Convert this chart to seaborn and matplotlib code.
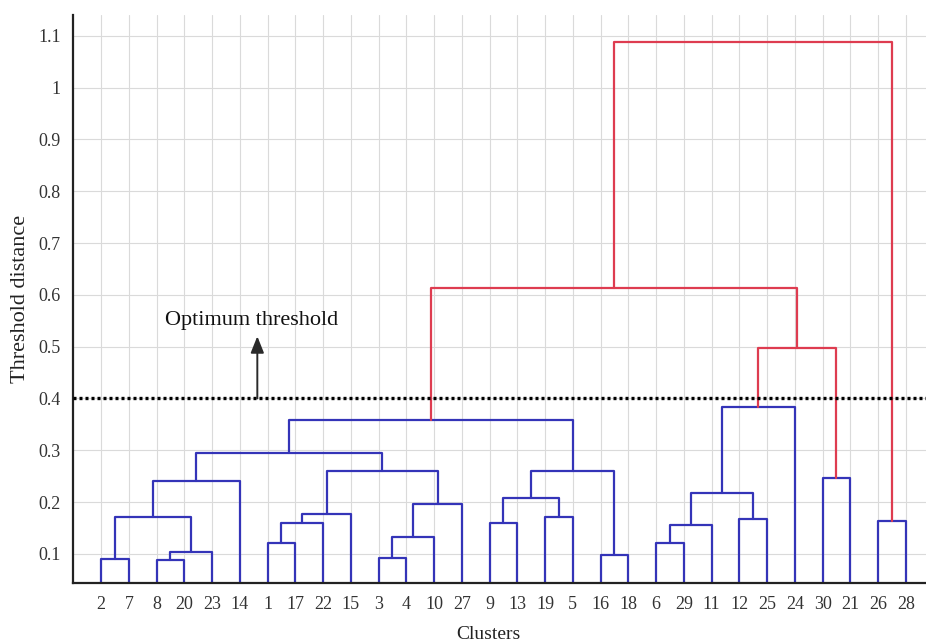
import numpy as np
import pandas as pd
import matplotlib
matplotlib.use("Agg")
import matplotlib.pyplot as plt
import seaborn as sns

# ---- data -----------------------------------------------------------
leaf_labels = ["2", "7", "8", "20", "23", "14", "1", "17", "22", "15",
               "3", "4", "10", "27", "9", "13", "19", "5", "16", "18",
               "6", "29", "11", "12", "25", "24", "30", "21", "26", "28"]

# merges: node name, left child, right child, height
merge_names = ["m0", "m1", "m2", "m3", "m4", "m5", "m6", "m7", "m8", "m9",
               "m10", "m11", "m12", "m13", "m14", "m15", "m16", "m17", "m18",
               "m19", "m20", "m21", "m22", "m23", "m24", "m25", "m26", "m27", "m28"]
merge_left = ["2", "8", "m1", "m0", "m3", "1", "m5", "m6", "3", "m8",
              "m9", "m7", "m4", "9", "19", "m13", "16", "m15", "m12",
              "6", "m19", "12", "m20", "m22", "30", "m23", "m18", "26", "m26"]
merge_right = ["7", "20", "23", "m2", "14", "17", "22", "15", "4", "10",
               "27", "m10", "m11", "13", "5", "m14", "18", "m16", "m17",
               "29", "11", "25", "m21", "24", "21", "m24", "m25", "28", "m27"]
merge_height = [0.089, 0.088, 0.104, 0.171, 0.241, 0.120, 0.159, 0.176, 0.091, 0.133,
                0.197, 0.259, 0.295, 0.159, 0.171, 0.208, 0.098, 0.260, 0.358,
                0.120, 0.155, 0.167, 0.217, 0.384, 0.247, 0.497, 0.614, 0.163, 1.088]

threshold = 0.4
y_ticks = [0.1, 0.2, 0.3, 0.4, 0.5, 0.6, 0.7, 0.8, 0.9, 1.0, 1.1]
y_tick_labels = ["0.1", "0.2", "0.3", "0.4", "0.5", "0.6", "0.7", "0.8", "0.9", "1", "1.1"]

# ---- build link segments -------------------------------------------
pos = {lab: i + 1 for i, lab in enumerate(leaf_labels)}
hgt = {lab: 0.0 for lab in leaf_labels}
rows = []
for name, l, r, h in zip(merge_names, merge_left, merge_right, merge_height):
    xl, xr = pos[l], pos[r]
    yl, yr = hgt[l], hgt[r]
    col = "above" if h > threshold else "below"
    for x, y in [(xl, yl), (xl, h), (xr, h), (xr, yr)]:
        rows.append({"link": name, "x": x, "y": y, "grp": col})
    pos[name] = (xl + xr) / 2.0
    hgt[name] = h
df = pd.DataFrame(rows)

# ---- figure --------------------------------------------------------
sns.set_style("whitegrid")
plt.rcParams["font.family"] = ["Liberation Serif", "DejaVu Serif"]

fig = plt.figure(figsize=(9.26, 6.42), dpi=100)
ax = fig.add_axes([0.0792, 0.0914, 0.929, 0.885])

sns.lineplot(data=df, x="x", y="y", units="link", hue="grp",
             palette={"below": "#3434b8", "above": "#de3c50"},
             estimator=None, sort=False, legend=False, linewidth=1.6, ax=ax)

ax.axhline(threshold, color="black", linestyle=(0, (0.9, 0.9)), linewidth=2.4, zorder=5)

ax.annotate("", xy=(6.63, 0.52), xytext=(6.63, threshold),
            arrowprops=dict(arrowstyle="-|>,head_length=1.0,head_width=0.4",
                            color="#2a2a2a", lw=1.4, shrinkA=0, shrinkB=0))
ax.text(3.3, 0.55, "Optimum threshold", fontsize=16, ha="left", va="center", color="#111111")

ax.set_xlim(0, 31)
ax.set_ylim(0.043, 1.14)
ax.set_xticks(range(1, len(leaf_labels) + 1))
ax.set_xticklabels(leaf_labels)
ax.set_yticks(y_ticks)
ax.set_yticklabels(y_tick_labels)
ax.tick_params(axis="y", direction="in", length=6, width=1.2, color="#333333",
               labelsize=13, pad=9, labelcolor="#333333")
ax.tick_params(axis="x", direction="in", length=0, labelsize=13, pad=9, labelcolor="#333333")

ax.grid(True, color="#dadada", linewidth=0.8)
for s in ["top", "right"]:
    ax.spines[s].set_visible(False)
for s in ["left", "bottom"]:
    ax.spines[s].set_visible(True)
    ax.spines[s].set_color("#222222")
    ax.spines[s].set_linewidth(1.6)

ax.set_xlabel("Clusters", fontsize=14, color="#222222", labelpad=2)
ax.xaxis.set_label_coords((488 - 73.3) / (933.5 - 73.3), -0.075)
ax.set_ylabel("Threshold distance", fontsize=16, color="#222222", labelpad=6)

fig.savefig("out.png", dpi=100)
